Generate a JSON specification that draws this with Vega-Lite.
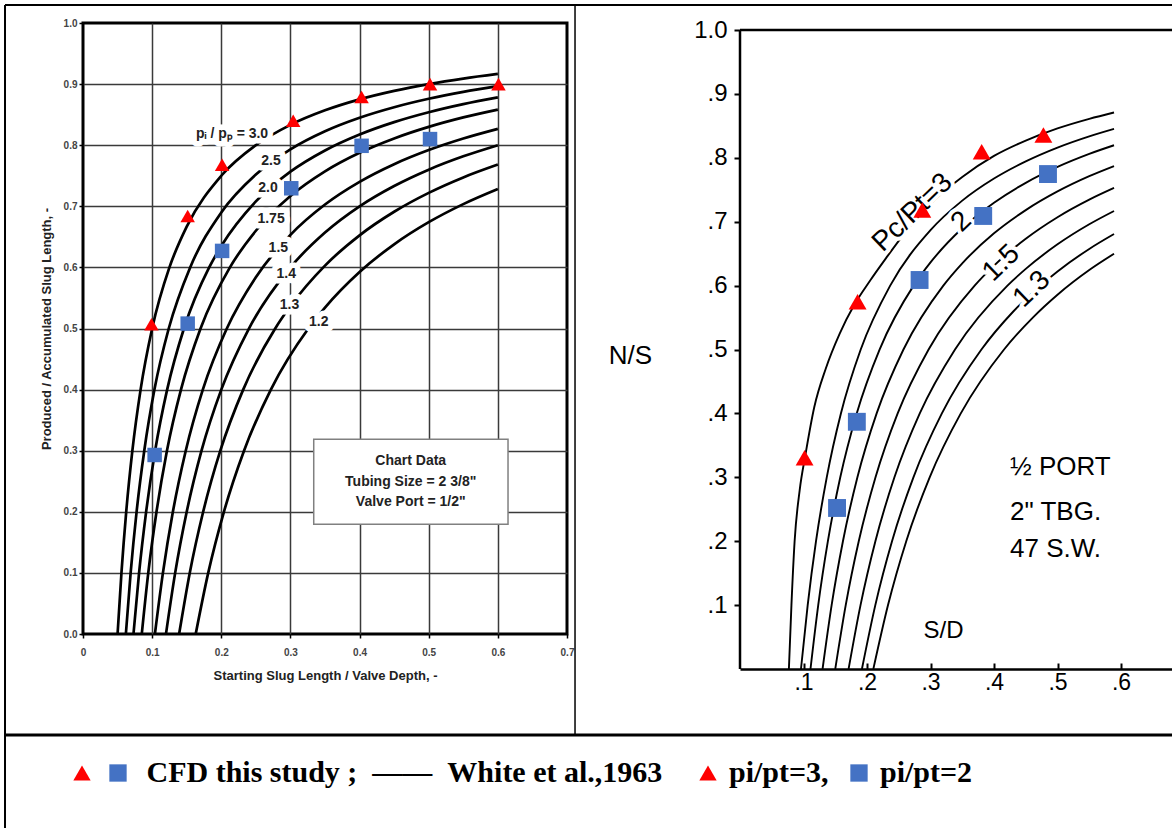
{
  "$schema": "https://vega.github.io/schema/vega-lite/v6.json",
  "background": "white",
  "padding": {"left": 2, "top": 2, "right": 0, "bottom": 0},
  "bounds": "flush",
  "spacing": 173,
  "config": {"view": {"stroke": null}, "font": "Liberation Sans"},
  "datasets": {
    "leftCurves": [
      {"curve": "3.0", "x": 0.05, "y": 0}, {"curve": "3.0", "x": 0.0556, "y": 0.1}, {"curve": "3.0", "x": 0.0625, "y": 0.2}, {"curve": "3.0", "x": 0.0714, "y": 0.3}, {"curve": "3.0", "x": 0.0833, "y": 0.4}, {"curve": "3.0", "x": 0.1, "y": 0.5}, {"curve": "3.0", "x": 0.125, "y": 0.6}, {"curve": "3.0", "x": 0.15, "y": 0.6667}, {"curve": "3.0", "x": 0.2, "y": 0.75}, {"curve": "3.0", "x": 0.25, "y": 0.8}, {"curve": "3.0", "x": 0.3, "y": 0.8333}, {"curve": "3.0", "x": 0.35, "y": 0.8571}, {"curve": "3.0", "x": 0.4, "y": 0.875}, {"curve": "3.0", "x": 0.45, "y": 0.8889}, {"curve": "3.0", "x": 0.5, "y": 0.9}, {"curve": "3.0", "x": 0.55, "y": 0.9091}, {"curve": "3.0", "x": 0.6, "y": 0.9167},
      {"curve": "2.5", "x": 0.062, "y": 0}, {"curve": "2.5", "x": 0.0689, "y": 0.1}, {"curve": "2.5", "x": 0.0775, "y": 0.2}, {"curve": "2.5", "x": 0.0886, "y": 0.3}, {"curve": "2.5", "x": 0.1033, "y": 0.4}, {"curve": "2.5", "x": 0.124, "y": 0.5}, {"curve": "2.5", "x": 0.155, "y": 0.6}, {"curve": "2.5", "x": 0.2, "y": 0.69}, {"curve": "2.5", "x": 0.25, "y": 0.752}, {"curve": "2.5", "x": 0.3, "y": 0.7933}, {"curve": "2.5", "x": 0.35, "y": 0.8229}, {"curve": "2.5", "x": 0.4, "y": 0.845}, {"curve": "2.5", "x": 0.45, "y": 0.8622}, {"curve": "2.5", "x": 0.5, "y": 0.876}, {"curve": "2.5", "x": 0.55, "y": 0.8873}, {"curve": "2.5", "x": 0.6, "y": 0.8967},
      {"curve": "2.0", "x": 0.073, "y": 0}, {"curve": "2.0", "x": 0.0811, "y": 0.1}, {"curve": "2.0", "x": 0.0913, "y": 0.2}, {"curve": "2.0", "x": 0.1043, "y": 0.3}, {"curve": "2.0", "x": 0.1217, "y": 0.4}, {"curve": "2.0", "x": 0.146, "y": 0.5}, {"curve": "2.0", "x": 0.1825, "y": 0.6}, {"curve": "2.0", "x": 0.2, "y": 0.635}, {"curve": "2.0", "x": 0.25, "y": 0.708}, {"curve": "2.0", "x": 0.3, "y": 0.7567}, {"curve": "2.0", "x": 0.35, "y": 0.7914}, {"curve": "2.0", "x": 0.4, "y": 0.8175}, {"curve": "2.0", "x": 0.45, "y": 0.8378}, {"curve": "2.0", "x": 0.5, "y": 0.854}, {"curve": "2.0", "x": 0.55, "y": 0.8673}, {"curve": "2.0", "x": 0.6, "y": 0.8783},
      {"curve": "1.75", "x": 0.085, "y": 0}, {"curve": "1.75", "x": 0.0944, "y": 0.1}, {"curve": "1.75", "x": 0.1063, "y": 0.2}, {"curve": "1.75", "x": 0.1214, "y": 0.3}, {"curve": "1.75", "x": 0.1417, "y": 0.4}, {"curve": "1.75", "x": 0.17, "y": 0.5}, {"curve": "1.75", "x": 0.2125, "y": 0.6}, {"curve": "1.75", "x": 0.25, "y": 0.66}, {"curve": "1.75", "x": 0.3, "y": 0.7167}, {"curve": "1.75", "x": 0.35, "y": 0.7571}, {"curve": "1.75", "x": 0.4, "y": 0.7875}, {"curve": "1.75", "x": 0.45, "y": 0.8111}, {"curve": "1.75", "x": 0.5, "y": 0.83}, {"curve": "1.75", "x": 0.55, "y": 0.8455}, {"curve": "1.75", "x": 0.6, "y": 0.8583},
      {"curve": "1.5", "x": 0.104, "y": 0}, {"curve": "1.5", "x": 0.1156, "y": 0.1}, {"curve": "1.5", "x": 0.13, "y": 0.2}, {"curve": "1.5", "x": 0.1486, "y": 0.3}, {"curve": "1.5", "x": 0.1733, "y": 0.4}, {"curve": "1.5", "x": 0.208, "y": 0.5}, {"curve": "1.5", "x": 0.25, "y": 0.584}, {"curve": "1.5", "x": 0.3, "y": 0.6533}, {"curve": "1.5", "x": 0.35, "y": 0.7029}, {"curve": "1.5", "x": 0.4, "y": 0.74}, {"curve": "1.5", "x": 0.45, "y": 0.7689}, {"curve": "1.5", "x": 0.5, "y": 0.792}, {"curve": "1.5", "x": 0.55, "y": 0.8109}, {"curve": "1.5", "x": 0.6, "y": 0.8267},
      {"curve": "1.4", "x": 0.12, "y": 0}, {"curve": "1.4", "x": 0.1333, "y": 0.1}, {"curve": "1.4", "x": 0.15, "y": 0.2}, {"curve": "1.4", "x": 0.1714, "y": 0.3}, {"curve": "1.4", "x": 0.2, "y": 0.4}, {"curve": "1.4", "x": 0.24, "y": 0.5}, {"curve": "1.4", "x": 0.3, "y": 0.6}, {"curve": "1.4", "x": 0.35, "y": 0.6571}, {"curve": "1.4", "x": 0.4, "y": 0.7}, {"curve": "1.4", "x": 0.45, "y": 0.7333}, {"curve": "1.4", "x": 0.5, "y": 0.76}, {"curve": "1.4", "x": 0.55, "y": 0.7818}, {"curve": "1.4", "x": 0.6, "y": 0.8},
      {"curve": "1.3", "x": 0.139, "y": 0}, {"curve": "1.3", "x": 0.1544, "y": 0.1}, {"curve": "1.3", "x": 0.1738, "y": 0.2}, {"curve": "1.3", "x": 0.1986, "y": 0.3}, {"curve": "1.3", "x": 0.2317, "y": 0.4}, {"curve": "1.3", "x": 0.278, "y": 0.5}, {"curve": "1.3", "x": 0.3, "y": 0.5367}, {"curve": "1.3", "x": 0.35, "y": 0.6029}, {"curve": "1.3", "x": 0.4, "y": 0.6525}, {"curve": "1.3", "x": 0.45, "y": 0.6911}, {"curve": "1.3", "x": 0.5, "y": 0.722}, {"curve": "1.3", "x": 0.55, "y": 0.7473}, {"curve": "1.3", "x": 0.6, "y": 0.7683},
      {"curve": "1.2", "x": 0.163, "y": 0}, {"curve": "1.2", "x": 0.1811, "y": 0.1}, {"curve": "1.2", "x": 0.2038, "y": 0.2}, {"curve": "1.2", "x": 0.2329, "y": 0.3}, {"curve": "1.2", "x": 0.2717, "y": 0.4}, {"curve": "1.2", "x": 0.326, "y": 0.5}, {"curve": "1.2", "x": 0.35, "y": 0.5343}, {"curve": "1.2", "x": 0.4, "y": 0.5925}, {"curve": "1.2", "x": 0.45, "y": 0.6378}, {"curve": "1.2", "x": 0.5, "y": 0.674}, {"curve": "1.2", "x": 0.55, "y": 0.7036}, {"curve": "1.2", "x": 0.6, "y": 0.7283}
    ],
    "leftLabels": [
      {"label": "pᵢ / pₚ = 3.0", "x": 0.2156, "y": 0.818},
      {"label": "2.5", "x": 0.272, "y": 0.774},
      {"label": "2.0", "x": 0.2675, "y": 0.7295},
      {"label": "1.75", "x": 0.272, "y": 0.679},
      {"label": "1.5", "x": 0.2825, "y": 0.632},
      {"label": "1.4", "x": 0.294, "y": 0.59},
      {"label": "1.3", "x": 0.2986, "y": 0.539},
      {"label": "1.2", "x": 0.341, "y": 0.51}
    ],
    "chartData": [
      {"t": "Chart Data", "x": 0.474, "y": 0.2837},
      {"t": "Tubing Size = 2 3/8\"", "x": 0.474, "y": 0.2493},
      {"t": "Valve Port = 1/2\"", "x": 0.474, "y": 0.2166}
    ],
    "leftPts": [
      {"series": "pi/pt=3", "x": 0.099, "y": 0.507}, {"series": "pi/pt=3", "x": 0.1514, "y": 0.684}, {"series": "pi/pt=3", "x": 0.2012, "y": 0.768}, {"series": "pi/pt=3", "x": 0.304, "y": 0.84}, {"series": "pi/pt=3", "x": 0.4029, "y": 0.879}, {"series": "pi/pt=3", "x": 0.5019, "y": 0.9}, {"series": "pi/pt=3", "x": 0.6009, "y": 0.9},
      {"series": "pi/pt=2", "x": 0.1036, "y": 0.293}, {"series": "pi/pt=2", "x": 0.1514, "y": 0.508}, {"series": "pi/pt=2", "x": 0.2012, "y": 0.627}, {"series": "pi/pt=2", "x": 0.3012, "y": 0.7295}, {"series": "pi/pt=2", "x": 0.4029, "y": 0.799}, {"series": "pi/pt=2", "x": 0.5019, "y": 0.81}
    ],
    "rightCurves": [
      {"curve": "3", "x": 0.077, "y": 0}, {"curve": "3", "x": 0.081, "y": 0.1}, {"curve": "3", "x": 0.086, "y": 0.2}, {"curve": "3", "x": 0.094, "y": 0.28}, {"curve": "3", "x": 0.103, "y": 0.335}, {"curve": "3", "x": 0.117, "y": 0.41}, {"curve": "3", "x": 0.135, "y": 0.47}, {"curve": "3", "x": 0.157, "y": 0.525}, {"curve": "3", "x": 0.18, "y": 0.57}, {"curve": "3", "x": 0.205, "y": 0.608}, {"curve": "3", "x": 0.23, "y": 0.643}, {"curve": "3", "x": 0.26, "y": 0.683}, {"curve": "3", "x": 0.3, "y": 0.728}, {"curve": "3", "x": 0.35, "y": 0.77}, {"curve": "3", "x": 0.4, "y": 0.803}, {"curve": "3", "x": 0.45, "y": 0.827}, {"curve": "3", "x": 0.5, "y": 0.846}, {"curve": "3", "x": 0.55, "y": 0.861}, {"curve": "3", "x": 0.589, "y": 0.871},
      {"curve": "2.5", "x": 0.096, "y": 0}, {"curve": "2.5", "x": 0.1066, "y": 0.1}, {"curve": "2.5", "x": 0.1197, "y": 0.2}, {"curve": "2.5", "x": 0.1366, "y": 0.3}, {"curve": "2.5", "x": 0.1589, "y": 0.4}, {"curve": "2.5", "x": 0.1901, "y": 0.5}, {"curve": "2.5", "x": 0.2365, "y": 0.6}, {"curve": "2.5", "x": 0.3, "y": 0.6868}, {"curve": "2.5", "x": 0.35, "y": 0.733}, {"curve": "2.5", "x": 0.4, "y": 0.7676}, {"curve": "2.5", "x": 0.45, "y": 0.7945}, {"curve": "2.5", "x": 0.5, "y": 0.8161}, {"curve": "2.5", "x": 0.55, "y": 0.8337}, {"curve": "2.5", "x": 0.589, "y": 0.8454},
      {"curve": "2", "x": 0.111, "y": 0}, {"curve": "2", "x": 0.1232, "y": 0.1}, {"curve": "2", "x": 0.1384, "y": 0.2}, {"curve": "2", "x": 0.1579, "y": 0.3}, {"curve": "2", "x": 0.1838, "y": 0.4}, {"curve": "2", "x": 0.2198, "y": 0.5}, {"curve": "2", "x": 0.2734, "y": 0.6}, {"curve": "2", "x": 0.3, "y": 0.6363}, {"curve": "2", "x": 0.35, "y": 0.6897}, {"curve": "2", "x": 0.4, "y": 0.7297}, {"curve": "2", "x": 0.45, "y": 0.7609}, {"curve": "2", "x": 0.5, "y": 0.7858}, {"curve": "2", "x": 0.55, "y": 0.8062}, {"curve": "2", "x": 0.589, "y": 0.8197},
      {"curve": "1.75", "x": 0.13, "y": 0}, {"curve": "1.75", "x": 0.1443, "y": 0.1}, {"curve": "1.75", "x": 0.1621, "y": 0.2}, {"curve": "1.75", "x": 0.1849, "y": 0.3}, {"curve": "1.75", "x": 0.2152, "y": 0.4}, {"curve": "1.75", "x": 0.2574, "y": 0.5}, {"curve": "1.75", "x": 0.3202, "y": 0.6}, {"curve": "1.75", "x": 0.35, "y": 0.6349}, {"curve": "1.75", "x": 0.4, "y": 0.6818}, {"curve": "1.75", "x": 0.45, "y": 0.7182}, {"curve": "1.75", "x": 0.5, "y": 0.7474}, {"curve": "1.75", "x": 0.55, "y": 0.7713}, {"curve": "1.75", "x": 0.589, "y": 0.7871},
      {"curve": "1.5", "x": 0.15, "y": 0}, {"curve": "1.5", "x": 0.1665, "y": 0.1}, {"curve": "1.5", "x": 0.187, "y": 0.2}, {"curve": "1.5", "x": 0.2134, "y": 0.3}, {"curve": "1.5", "x": 0.2483, "y": 0.4}, {"curve": "1.5", "x": 0.297, "y": 0.5}, {"curve": "1.5", "x": 0.3695, "y": 0.6}, {"curve": "1.5", "x": 0.4, "y": 0.6313}, {"curve": "1.5", "x": 0.45, "y": 0.6733}, {"curve": "1.5", "x": 0.5, "y": 0.707}, {"curve": "1.5", "x": 0.55, "y": 0.7345}, {"curve": "1.5", "x": 0.589, "y": 0.7528},
      {"curve": "1.4", "x": 0.171, "y": 0}, {"curve": "1.4", "x": 0.1898, "y": 0.1}, {"curve": "1.4", "x": 0.2132, "y": 0.2}, {"curve": "1.4", "x": 0.2432, "y": 0.3}, {"curve": "1.4", "x": 0.2831, "y": 0.4}, {"curve": "1.4", "x": 0.3386, "y": 0.5}, {"curve": "1.4", "x": 0.4212, "y": 0.6}, {"curve": "1.4", "x": 0.45, "y": 0.6262}, {"curve": "1.4", "x": 0.5, "y": 0.6646}, {"curve": "1.4", "x": 0.55, "y": 0.696}, {"curve": "1.4", "x": 0.589, "y": 0.7168},
      {"curve": "1.3", "x": 0.192, "y": 0}, {"curve": "1.3", "x": 0.2131, "y": 0.1}, {"curve": "1.3", "x": 0.2394, "y": 0.2}, {"curve": "1.3", "x": 0.2731, "y": 0.3}, {"curve": "1.3", "x": 0.3179, "y": 0.4}, {"curve": "1.3", "x": 0.3802, "y": 0.5}, {"curve": "1.3", "x": 0.43, "y": 0.5591}, {"curve": "1.3", "x": 0.473, "y": 0.6}, {"curve": "1.3", "x": 0.5, "y": 0.6222}, {"curve": "1.3", "x": 0.55, "y": 0.6574}, {"curve": "1.3", "x": 0.589, "y": 0.6807},
      {"curve": "1.2", "x": 0.21, "y": 0}, {"curve": "1.2", "x": 0.2331, "y": 0.1}, {"curve": "1.2", "x": 0.2618, "y": 0.2}, {"curve": "1.2", "x": 0.2987, "y": 0.3}, {"curve": "1.2", "x": 0.3477, "y": 0.4}, {"curve": "1.2", "x": 0.4158, "y": 0.5}, {"curve": "1.2", "x": 0.4611, "y": 0.55}, {"curve": "1.2", "x": 0.5, "y": 0.5858}, {"curve": "1.2", "x": 0.55, "y": 0.6244}, {"curve": "1.2", "x": 0.589, "y": 0.6499}
    ],
    "rightLabels": [
      {"label": "Pc/Pt=3", "x": 0.272, "y": 0.714},
      {"label": "2", "x": 0.3489, "y": 0.7},
      {"label": "1.5", "x": 0.4118, "y": 0.6349},
      {"label": "1.3", "x": 0.4598, "y": 0.5942}
    ],
    "rightNotes": [
      {"t": "½ PORT", "x": 0.4252, "y": 0.316},
      {"t": "2\" TBG.", "x": 0.4252, "y": 0.2457},
      {"t": "47 S.W.", "x": 0.4252, "y": 0.1878}
    ],
    "rightPts": [
      {"series": "pi/pt=3", "x": 0.1017, "y": 0.3307}, {"series": "pi/pt=3", "x": 0.1852, "y": 0.5748}, {"series": "pi/pt=3", "x": 0.2871, "y": 0.7183}, {"series": "pi/pt=3", "x": 0.3806, "y": 0.8096}, {"series": "pi/pt=3", "x": 0.4778, "y": 0.8357},
      {"series": "pi/pt=2", "x": 0.1528, "y": 0.252}, {"series": "pi/pt=2", "x": 0.184, "y": 0.3869}, {"series": "pi/pt=2", "x": 0.2828, "y": 0.6088}, {"series": "pi/pt=2", "x": 0.383, "y": 0.709}, {"series": "pi/pt=2", "x": 0.485, "y": 0.7746}
    ]
  },
  "hconcat": [
    {
      "width": 484,
      "height": 611,
      "view": {"stroke": "black", "strokeWidth": 3},
      "layer": [
        {
          "data": {"name": "leftCurves"},
          "mark": {"type": "line", "color": "black", "strokeWidth": 2.7, "interpolate": "monotone"},
          "encoding": {
            "x": {
              "field": "x", "type": "quantitative",
              "scale": {"domain": [0, 0.7], "nice": false, "zero": false},
              "axis": {
                "values": [0, 0.05, 0.1, 0.15, 0.2, 0.25, 0.3, 0.35, 0.4, 0.45, 0.5, 0.55, 0.6, 0.65, 0.7],
                "labelExpr": "round(datum.value*100) % 10 == 0 ? (datum.value == 0 ? '0' : format(datum.value, '.1f')) : ''",
                "grid": true, "gridColor": "#3a3a3a", "gridWidth": 1.5,
                "gridOpacity": {"condition": {"test": "datum.value < 0.001 || datum.value > 0.699", "value": 0}, "value": 1},
                "tickOpacity": {"condition": {"test": "round(datum.value*100) % 10 != 0", "value": 0}, "value": 1},
                "tickSize": 4, "tickColor": "black", "tickWidth": 1.5,
                "domain": false, "labelOverlap": false, "labelFlush": false,
                "labelFont": "Liberation Sans", "labelFontWeight": "bold", "labelFontSize": 10, "labelColor": "#444", "labelPadding": 9,
                "title": "Starting Slug Length / Valve Depth, -", "titleFont": "Liberation Sans", "titleFontSize": 13, "titleFontWeight": "bold", "titleColor": "#222", "titlePadding": 12
              }
            },
            "y": {
              "field": "y", "type": "quantitative",
              "scale": {"domain": [0, 1], "nice": false},
              "axis": {
                "values": [0, 0.05, 0.1, 0.15, 0.2, 0.25, 0.3, 0.35, 0.4, 0.45, 0.5, 0.55, 0.6, 0.65, 0.7, 0.75, 0.8, 0.85, 0.9, 0.95, 1],
                "labelExpr": "round(datum.value*100) % 10 == 0 ? format(datum.value, '.1f') : ''",
                "grid": true, "gridColor": "#3a3a3a", "gridWidth": 1.5,
                "gridOpacity": {"condition": {"test": "datum.value < 0.001 || datum.value > 0.999", "value": 0}, "value": 1},
                "tickOpacity": {"condition": {"test": "round(datum.value*100) % 10 != 0", "value": 0}, "value": 1},
                "tickSize": 4, "tickColor": "black", "tickWidth": 1.5,
                "domain": false, "labelOverlap": false, "labelFlush": false,
                "labelFont": "Liberation Sans", "labelFontWeight": "bold", "labelFontSize": 10, "labelColor": "#444", "labelPadding": 2,
                "title": "Produced / Accumulated Slug Length, -", "titleFont": "Liberation Sans", "titleFontSize": 13, "titleFontWeight": "bold", "titleColor": "#222", "titlePadding": 10
              }
            },
            "detail": {"field": "curve"}
          }
        },
        {
          "data": {"values": [{}]},
          "mark": {"type": "rule", "color": "black", "strokeWidth": 2},
          "encoding": {"x": {"datum": -0.1128}, "y": {"datum": 1.0295}, "y2": {"datum": -0.3175}}
        },
        {
          "data": {"values": [{}]},
          "mark": {"type": "rule", "color": "black", "strokeWidth": 2},
          "encoding": {"y": {"datum": 1.0295}, "x": {"datum": -0.1128}, "x2": {"datum": 1.5751}}
        },
        {
          "data": {"values": [{}]},
          "mark": {"type": "rule", "color": "black", "strokeWidth": 1.5},
          "encoding": {"x": {"datum": 0.7116}, "y": {"datum": 1.0295}, "y2": {"datum": -0.1653}}
        },
        {
          "data": {"values": [{}]},
          "mark": {"type": "rule", "color": "black", "strokeWidth": 3},
          "encoding": {"y": {"datum": -0.1653}, "x": {"datum": -0.1128}, "x2": {"datum": 1.5751}}
        },
        {
          "data": {"values": [{}]},
          "mark": {"type": "rect", "fill": "white", "stroke": "#808080", "strokeWidth": 1.5},
          "encoding": {"x": {"datum": 0.3337}, "x2": {"datum": 0.6147}, "y": {"datum": 0.1796}, "y2": {"datum": 0.3187}}
        },
        {
          "data": {"name": "chartData"},
          "mark": {"type": "text", "font": "Liberation Sans", "fontWeight": "bold", "fontSize": 14, "color": "#222", "align": "center", "baseline": "middle"},
          "encoding": {"x": {"field": "x", "type": "quantitative"}, "y": {"field": "y", "type": "quantitative"}, "text": {"field": "t"}}
        },
        {
          "data": {"name": "leftLabels"},
          "mark": {"type": "text", "font": "Liberation Sans", "fontWeight": "bold", "fontSize": 14, "fill": "white", "stroke": "white", "strokeWidth": 11, "strokeJoin": "round", "align": "center", "baseline": "middle"},
          "encoding": {"x": {"field": "x", "type": "quantitative"}, "y": {"field": "y", "type": "quantitative"}, "text": {"field": "label"}}
        },
        {
          "data": {"name": "leftLabels"},
          "mark": {"type": "text", "font": "Liberation Sans", "fontWeight": "bold", "fontSize": 14, "color": "#222", "align": "center", "baseline": "middle"},
          "encoding": {"x": {"field": "x", "type": "quantitative"}, "y": {"field": "y", "type": "quantitative"}, "text": {"field": "label"}}
        },
        {
          "data": {"name": "leftPts"},
          "mark": {"type": "point", "filled": true, "opacity": 1, "size": 210, "strokeWidth": 0},
          "encoding": {
            "x": {"field": "x", "type": "quantitative"},
            "y": {"field": "y", "type": "quantitative"},
            "shape": {"field": "series", "type": "nominal", "scale": {"domain": ["cfdT", "cfdS", "pi/pt=3", "pi/pt=2"], "range": ["triangle-up", "square", "triangle-up", "square"]},
              "legend": {"orient": "none", "legendX": -16, "legendY": 735, "direction": "horizontal", "title": null, "padding": 0, "symbolSize": 300, "symbolStrokeWidth": 0, "labelFont": "Liberation Serif", "labelFontWeight": "bold", "labelFontSize": 30, "labelColor": "black", "labelOffset": 6, "columnPadding": 0, "labelLimit": 2000,
                "labelExpr": "datum.value == 'cfdT' ? '' : datum.value == 'cfdS' ? '\u2060\u00a0CFD this study ;\u00a0\u00a0——\u00a0\u00a0White et al.,1963\u00a0\u00a0\u00a0\u00a0\u2060' : datum.value == 'pi/pt=3' ? 'pi/pt=3,\u00a0\u00a0\u2060' : 'pi/pt=2'"}},
            "color": {"field": "series", "type": "nominal", "scale": {"domain": ["cfdT", "cfdS", "pi/pt=3", "pi/pt=2"], "range": ["#ff0000", "#4472c4", "#ff0000", "#4472c4"]},
              "legend": {"orient": "none", "legendX": -16, "legendY": 735, "direction": "horizontal", "title": null, "padding": 0, "symbolSize": 300, "symbolStrokeWidth": 0, "labelFont": "Liberation Serif", "labelFontWeight": "bold", "labelFontSize": 30, "labelColor": "black", "labelOffset": 6, "columnPadding": 0, "labelLimit": 2000,
                "labelExpr": "datum.value == 'cfdT' ? '' : datum.value == 'cfdS' ? '\u2060\u00a0CFD this study ;\u00a0\u00a0——\u00a0\u00a0White et al.,1963\u00a0\u00a0\u00a0\u00a0\u2060' : datum.value == 'pi/pt=3' ? 'pi/pt=3,\u00a0\u00a0\u2060' : 'pi/pt=2'"}}
          }
        }
      ]
    },
    {
      "width": 432,
      "height": 646,
      "view": {"stroke": null},
      "layer": [
        {
          "data": {"name": "rightCurves"},
          "mark": {"type": "line", "color": "black", "strokeWidth": 1.9, "interpolate": "monotone"},
          "encoding": {
            "x": {
              "field": "x", "type": "quantitative",
              "scale": {"domain": [0, 0.6803], "nice": false, "zero": false},
              "axis": {
                "values": [0.1, 0.2, 0.3, 0.4, 0.5, 0.6],
                "labelExpr": "'.' + round(datum.value*10)",
                "grid": false, "domain": true, "domainColor": "black", "domainWidth": 2.5,
                "tickSize": -6, "tickColor": "black", "tickWidth": 2,
                "labelFont": "Liberation Sans", "labelFontSize": 23, "labelColor": "black", "labelPadding": 8, "labelFlush": false,
                "title": "S/D", "titleFont": "Liberation Sans", "titleFontSize": 24, "titleFontWeight": "normal", "titleColor": "black",
                "titleX": 203, "titleY": -39, "titleAlign": "center", "titleBaseline": "middle"
              }
            },
            "y": {
              "field": "y", "type": "quantitative",
              "scale": {"domain": [0, 1.011], "nice": false},
              "axis": {
                "values": [0.1, 0.2, 0.3, 0.4, 0.5, 0.6, 0.7, 0.8, 0.9, 1],
                "labelExpr": "datum.value > 0.99 ? '1.0' : '.' + round(datum.value*10)",
                "grid": false, "domain": false,
                "tickSize": 6, "tickColor": "black", "tickWidth": 2,
                "labelFont": "Liberation Sans", "labelFontSize": 24, "labelColor": "black", "labelPadding": 7, "labelFlush": false,
                "title": "N/S", "titleFont": "Liberation Sans", "titleFontSize": 26, "titleFontWeight": "normal", "titleColor": "black",
                "titleAngle": 0, "titleX": -110, "titleY": 332, "titleAlign": "center", "titleBaseline": "middle"
              }
            },
            "detail": {"field": "curve"}
          }
        },
        {
          "data": {"values": [{}]},
          "mark": {"type": "rule", "color": "black", "strokeWidth": 2.5},
          "encoding": {"x": {"datum": 0}, "y": {"datum": 0}, "y2": {"datum": 1}}
        },
        {
          "data": {"values": [{}]},
          "mark": {"type": "rule", "color": "black", "strokeWidth": 2.5},
          "encoding": {"y": {"datum": 1}, "x": {"datum": 0}, "x2": {"datum": 0.6803}}
        },
        {
          "data": {"name": "rightLabels"},
          "mark": {"type": "text", "font": "Liberation Sans", "fontSize": 28, "angle": -44, "fill": "white", "stroke": "white", "strokeWidth": 8, "strokeJoin": "round", "align": "center", "baseline": "middle"},
          "encoding": {"x": {"field": "x", "type": "quantitative"}, "y": {"field": "y", "type": "quantitative"}, "text": {"field": "label"}}
        },
        {
          "data": {"name": "rightLabels"},
          "mark": {"type": "text", "font": "Liberation Sans", "fontSize": 28, "angle": -44, "color": "black", "align": "center", "baseline": "middle"},
          "encoding": {"x": {"field": "x", "type": "quantitative"}, "y": {"field": "y", "type": "quantitative"}, "text": {"field": "label"}}
        },
        {
          "data": {"name": "rightNotes"},
          "mark": {"type": "text", "font": "Liberation Sans", "fontSize": 26, "color": "black", "align": "left", "baseline": "middle"},
          "encoding": {"x": {"field": "x", "type": "quantitative"}, "y": {"field": "y", "type": "quantitative"}, "text": {"field": "t"}}
        },
        {
          "data": {"name": "rightPts"},
          "mark": {"type": "point", "filled": true, "opacity": 1, "size": 320, "strokeWidth": 0},
          "encoding": {
            "x": {"field": "x", "type": "quantitative"},
            "y": {"field": "y", "type": "quantitative"},
            "shape": {"field": "series", "type": "nominal", "scale": {"domain": ["cfdT", "cfdS", "pi/pt=3", "pi/pt=2"], "range": ["triangle-up", "square", "triangle-up", "square"]},
              "legend": {"orient": "none", "legendX": -16, "legendY": 735, "direction": "horizontal", "title": null, "padding": 0, "symbolSize": 300, "symbolStrokeWidth": 0, "labelFont": "Liberation Serif", "labelFontWeight": "bold", "labelFontSize": 30, "labelColor": "black", "labelOffset": 6, "columnPadding": 0, "labelLimit": 2000,
                "labelExpr": "datum.value == 'cfdT' ? '' : datum.value == 'cfdS' ? '\u2060\u00a0CFD this study ;\u00a0\u00a0——\u00a0\u00a0White et al.,1963\u00a0\u00a0\u00a0\u00a0\u2060' : datum.value == 'pi/pt=3' ? 'pi/pt=3,\u00a0\u00a0\u2060' : 'pi/pt=2'"}},
            "color": {"field": "series", "type": "nominal", "scale": {"domain": ["cfdT", "cfdS", "pi/pt=3", "pi/pt=2"], "range": ["#ff0000", "#4472c4", "#ff0000", "#4472c4"]},
              "legend": {"orient": "none", "legendX": -16, "legendY": 735, "direction": "horizontal", "title": null, "padding": 0, "symbolSize": 300, "symbolStrokeWidth": 0, "labelFont": "Liberation Serif", "labelFontWeight": "bold", "labelFontSize": 30, "labelColor": "black", "labelOffset": 6, "columnPadding": 0, "labelLimit": 2000,
                "labelExpr": "datum.value == 'cfdT' ? '' : datum.value == 'cfdS' ? '\u2060\u00a0CFD this study ;\u00a0\u00a0——\u00a0\u00a0White et al.,1963\u00a0\u00a0\u00a0\u00a0\u2060' : datum.value == 'pi/pt=3' ? 'pi/pt=3,\u00a0\u00a0\u2060' : 'pi/pt=2'"}}
          }
        }
      ]
    }
  ]
}
